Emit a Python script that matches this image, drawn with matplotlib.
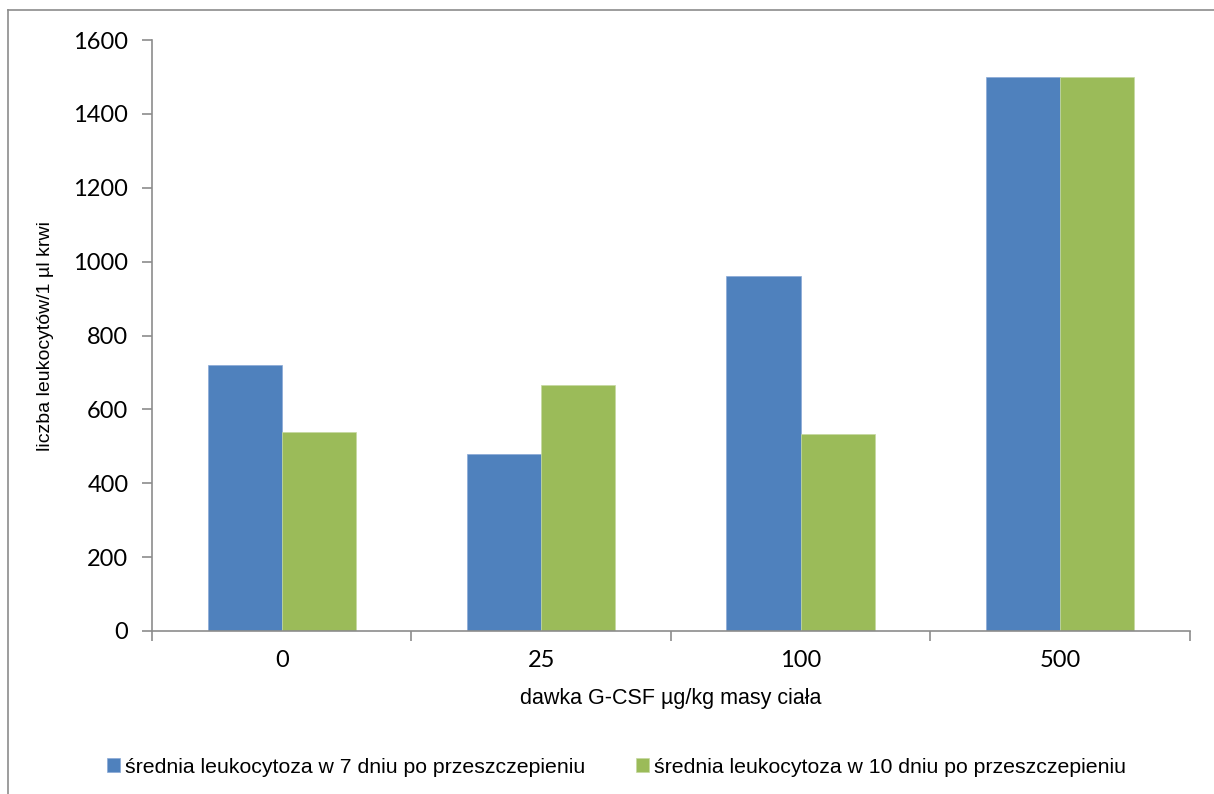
import matplotlib.pyplot as plt
import numpy as np
from matplotlib.lines import Line2D

doses = ['0', '25', '100', '500']
day7 = [720, 480, 960, 1500]
day10 = [540, 665, 533, 1500]
series_labels = ['średnia leukocytoza w 7 dniu po przeszczepieniu',
                 'średnia leukocytoza w 10 dniu po przeszczepieniu']

fig = plt.figure(figsize=(12.14, 7.94), dpi=100)
ax = fig.add_axes([0.1252, 0.2053, 0.8548, 0.7443])

# outer chart frame: only the left and top edges lie inside the canvas
fx, fy = 8 / 1214, 1 - 10 / 794
frame = dict(transform=fig.transFigure, color='#8c8c8c', linewidth=1.2)
fig.lines.append(Line2D([fx, fx], [0, fy], **frame))
fig.lines.append(Line2D([fx, 1], [fy, fy], **frame))

x = np.arange(len(doses))
w = 1 / 3.5
b1 = ax.bar(x - w / 2, day7, w, color='#4F81BD', edgecolor='#8aa9d6', linewidth=0.5,
            label=series_labels[0])
b2 = ax.bar(x + w / 2, day10, w, color='#9BBB59', edgecolor='#c5d9a0', linewidth=0.5,
            label=series_labels[1])

ax.set_xlim(-0.5, len(doses) - 0.5)
ax.set_ylim(0, 1600)
ax.set_yticks(range(0, 1601, 200))
ax.set_xticks(x)
ax.set_xticklabels(doses)
ax.set_xticks(np.arange(-0.5, len(doses), 1), minor=True)

for s in ['top', 'right']:
    ax.spines[s].set_visible(False)
for s in ['left', 'bottom']:
    ax.spines[s].set_color('#8c8c8c')
    ax.spines[s].set_linewidth(1.2)

ax.tick_params(axis='x', which='major', length=0, pad=14)
ax.tick_params(axis='x', which='minor', length=7, width=1.2, color='#8c8c8c')
ax.tick_params(axis='y', length=7, width=1.2, color='#8c8c8c', pad=10)
for lab in ax.get_xticklabels() + ax.get_yticklabels():
    lab.set_fontfamily('Lato')
    lab.set_fontsize(17)

ax.set_xlabel('dawka G-CSF µg/kg masy ciała', fontfamily='Liberation Sans',
              fontsize=15.5, labelpad=12)
ax.set_ylabel('liczba leukocytów/1 µl krwi', fontfamily='Liberation Sans',
              fontsize=14, labelpad=14)

fig.legend(handles=[b1, b2], loc='center', bbox_to_anchor=(0.508, 0.034), ncol=2,
           frameon=False, prop={'family': 'Liberation Sans', 'size': 15.3},
           handlelength=0.6, handleheight=0.6, handletextpad=0.25, columnspacing=2.4)

fig.savefig('out.png', dpi=100)
